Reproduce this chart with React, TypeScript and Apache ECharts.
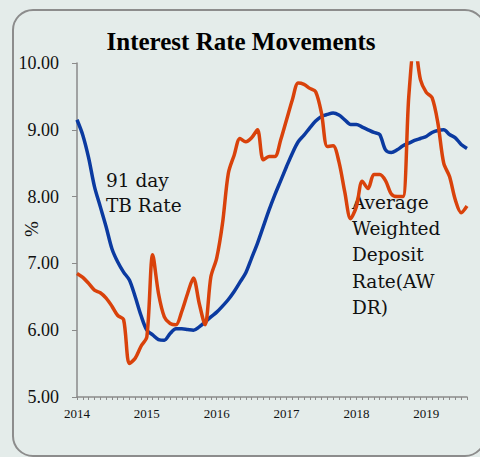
import React, { useEffect, useRef } from "react";
import * as echarts from "echarts";

const years = ["2014", "2015", "2016", "2017", "2018", "2019"];
const monthsInLastYear = 8;
const categories: string[] = [];
years.forEach((y, yi) => {
  const n = yi === years.length - 1 ? monthsInLastYear : 12;
  for (let m = 1; m <= n; m++) categories.push(`${y}-${String(m).padStart(2, "0")}`);
});

const tbRate = [
  9.15, 8.92, 8.58, 8.15, 7.85, 7.55, 7.22, 7.02, 6.87, 6.75, 6.5, 6.22,
  6.0, 5.93, 5.86, 5.85, 5.95, 6.02, 6.02, 6.01, 6.0, 6.05, 6.12, 6.2,
  6.27, 6.36, 6.46, 6.58, 6.72, 6.86, 7.08, 7.3, 7.55, 7.8, 8.03, 8.24,
  8.45, 8.65, 8.82, 8.92, 9.03, 9.13, 9.2, 9.23, 9.25, 9.22, 9.15, 9.08,
  9.08, 9.04, 9.0, 8.96, 8.93, 8.7, 8.66, 8.7, 8.76, 8.8, 8.84, 8.87,
  8.9, 8.96, 8.99, 9.0, 8.93, 8.88, 8.78, 8.72,
];

const awdr = [
  6.85, 6.79, 6.7, 6.6, 6.56, 6.48, 6.36, 6.22, 6.16, 5.5, 5.58, 5.76,
  5.9, 7.13, 6.55, 6.2, 6.1, 6.08, 6.28, 6.55, 6.78, 6.4, 6.08, 6.8,
  7.08, 7.6, 8.35, 8.62, 8.87, 8.82, 8.88, 9.0, 8.55, 8.6, 8.6, 8.85,
  9.15, 9.45, 9.7, 9.68, 9.62, 9.57, 9.25, 8.75, 8.76, 8.52, 8.07, 7.67,
  7.85, 8.23, 8.12, 8.33, 8.33, 8.24, 8.04, 8.0, 8.0, 9.5, 10.3, 9.75,
  9.56, 9.48, 9.1, 8.5, 8.3, 7.95, 7.76, 7.86,
];

const titleText = "Interest Rate Movements";
const yAxisName = "%";
const tbLabel = "91 day\nTB Rate";
const awdrLabel = "Average\nWeighted\nDeposit\nRate(AW\nDR)";

export default function App() {
  const ref = useRef<HTMLDivElement>(null);
  useEffect(() => {
    document.body.style.margin = "0";
    document.body.style.background = "#e4ecea";
    const chart = echarts.init(ref.current!, null, { renderer: "svg" });
    const axisColor = "#8a8a8a";
    chart.setOption({
      animation: false,
      backgroundColor: "#e4ecea",
      grid: { left: 77, right: 13, top: 63, bottom: 60, containLabel: false },
      xAxis: {
        type: "category",
        data: categories,
        boundaryGap: false,
        axisLine: { lineStyle: { color: axisColor, width: 1.5 } },
        axisTick: { interval: 0, length: 3, lineStyle: { color: axisColor } },
        axisLabel: {
          interval: (i: number) => i % 12 === 0,
          formatter: (v: string) => v.slice(0, 4),
          fontFamily: "Liberation Serif",
          fontSize: 13,
          color: "#111",
          margin: 10,
        },
        splitLine: { show: false },
      },
      yAxis: {
        type: "value",
        min: 5,
        max: 10,
        interval: 1,
        axisLine: { show: true, lineStyle: { color: axisColor, width: 1.5 } },
        axisTick: { show: true, length: 5, lineStyle: { color: axisColor } },
        axisLabel: {
          formatter: (v: number) => v.toFixed(2),
          fontFamily: "Liberation Serif",
          fontSize: 18,
          color: "#111",
          margin: 18,
        },
        splitLine: { show: false },
      },
      series: [
        {
          name: "91 day TB Rate",
          type: "line",
          data: tbRate,
          showSymbol: false,
          smooth: 0.3,
          lineStyle: { color: "#0b3aa0", width: 3.5 },
          clip: true,
        },
        {
          name: "AWDR",
          type: "line",
          data: awdr,
          showSymbol: false,
          smooth: 0.3,
          lineStyle: { color: "#d9420b", width: 3.5 },
          clip: true,
        },
      ],
      graphic: [
        {
          type: "rect",
          shape: { x: 13, y: 10, width: 472, height: 446, r: 20 },
          style: { fill: "none", stroke: "#8c8c8c", lineWidth: 2 },
          silent: true,
          z: -1,
        },
        {
          type: "text",
          x: 241,
          y: 41,
          style: {
            text: titleText,
            fontFamily: "Liberation Serif",
            fontWeight: "bold",
            fontSize: 25,
            fill: "#000",
            align: "center",
            verticalAlign: "middle",
          },
        },
        {
          type: "text",
          x: 31,
          y: 229,
          rotation: Math.PI / 2,
          style: {
            text: yAxisName,
            fontFamily: "Liberation Serif",
            fontSize: 19,
            fill: "#111",
            align: "center",
            verticalAlign: "middle",
          },
        },
        {
          type: "text",
          x: 106,
          y: 168,
          style: {
            text: tbLabel,
            fontFamily: "DejaVu Serif",
            fontSize: 18.5,
            lineHeight: 25,
            fill: "#111",
            align: "left",
            verticalAlign: "top",
          },
        },
        {
          type: "text",
          x: 352,
          y: 189,
          style: {
            text: awdrLabel,
            fontFamily: "DejaVu Serif",
            fontSize: 18.5,
            lineHeight: 26.3,
            fill: "#111",
            align: "left",
            verticalAlign: "top",
          },
        },
      ],
    });
    return () => chart.dispose();
  }, []);
  return <div ref={ref} style={{ width: 480, height: 457 }} />;
}
